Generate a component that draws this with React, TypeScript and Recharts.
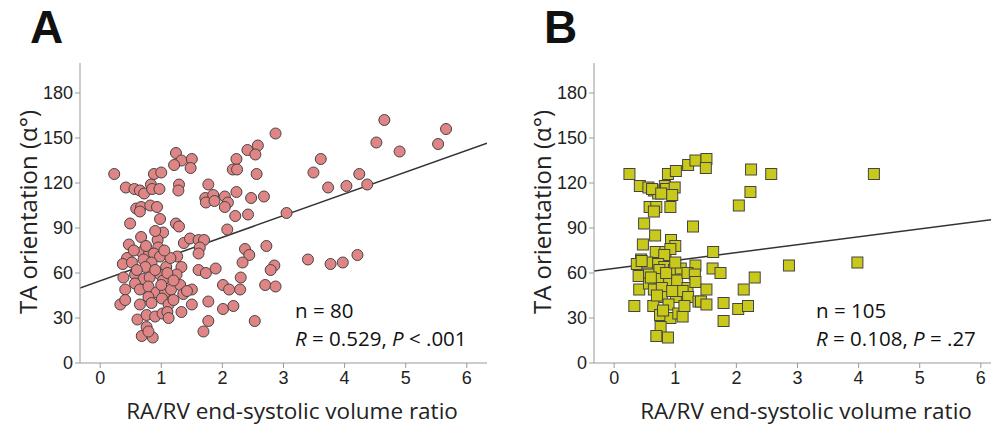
import React from "react";
import { ScatterChart, Scatter, XAxis, YAxis, ReferenceLine } from "recharts";

const X_TICKS = [0, 1, 2, 3, 4, 5, 6];
const Y_TICKS = [0, 30, 60, 90, 120, 150, 180];
const X_DOMAIN = [-0.33, 6.33];
const Y_DOMAIN = [0, 200];

// panel A: RA/RV ratio vs TA orientation
const aX = [
  0.23, 1.24, 1.33, 1.21, 0.88, 1.0, 0.42, 0.56, 0.65, 0.72, 0.83, 0.85, 0.97, 1.29, 1.28,
  0.59, 0.67, 0.65, 0.82, 0.93, 0.98, 0.49, 1.24, 1.29, 0.67, 1.03, 0.94, 0.47, 1.37, 0.95,
  0.68, 0.8, 0.88, 0.98, 0.44, 0.37, 0.52, 0.71, 0.84, 0.74, 1.08, 1.26, 1.33, 0.38, 0.57,
  0.71, 0.81, 0.98, 1.03, 1.25, 0.41, 0.57, 0.65, 0.79, 0.92, 1.06, 1.16, 1.31, 1.36, 0.79,
  0.33, 0.41, 0.65, 0.84, 1.01, 1.12, 1.2, 1.33, 0.61, 0.76, 0.9, 1.02, 1.1, 1.12, 0.76,
  0.68, 0.86, 0.79, 0.9, 1.1, 0.6, 1.15, 0.75, 1.05, 1.0, 1.2, 0.55, 0.9,
  2.87, 2.41, 2.58, 2.54, 2.23, 1.5, 1.48, 2.17, 2.24, 2.56, 1.77, 1.72, 1.85, 1.73, 1.87,
  2.04, 2.09, 2.04, 2.23, 2.47, 2.68, 2.21, 2.42, 3.05, 2.08, 1.47, 1.61, 1.7, 1.63, 1.61,
  2.37, 2.44, 2.72, 2.33, 2.85, 2.79, 1.61, 1.73, 1.89, 2.3, 2.01, 2.11, 2.29, 2.7, 2.87,
  1.5, 1.42, 1.77, 1.5, 2.01, 2.18, 1.77, 1.69, 2.53,
  4.65, 5.66, 4.52, 5.53, 4.9, 3.61, 3.49, 4.24, 3.73, 4.03, 4.37, 3.4, 3.77, 3.97, 4.21,
];
const aY = [
  126, 140, 135, 132, 126, 127, 117, 116, 115, 113, 119, 116, 116, 119, 115,
  103, 104, 101, 105, 104, 96, 93, 93, 91, 84, 87, 82, 79, 80, 77,
  74, 73, 73, 71, 70, 66, 67, 69, 67, 64, 64, 71, 64, 57, 59,
  56, 57, 59, 55, 59, 49, 53, 49, 51, 47, 47, 49, 52, 46, 44,
  39, 42, 39, 40, 43, 39, 42, 34, 29, 32, 31, 33, 34, 30, 24,
  18, 17, 21, 62, 60, 62, 70, 78, 75, 52, 55, 75, 88,
  153, 142, 145, 139, 136, 136, 130, 129, 129, 126, 119, 110, 112, 107, 108,
  111, 107, 104, 114, 110, 111, 98, 99, 100, 89, 83, 82, 82, 77, 73,
  76, 72, 78, 67, 65, 62, 62, 60, 63, 57, 52, 49, 49, 52, 51,
  49, 48, 41, 39, 36, 38, 28, 21, 28,
  162, 156, 147, 146, 141, 136, 127, 126, 117, 118, 119, 69, 66, 67, 72,
];

// panel B
const bX = [
  0.25, 0.42, 0.56, 0.65, 0.72, 0.83, 0.85, 0.99, 0.88, 1.01, 1.21, 1.33, 1.51, 1.5, 2.24,
  2.57, 2.23, 2.04, 0.58, 0.69, 0.65, 0.92, 4.25, 2.86, 3.98,
  0.49, 1.29, 0.67, 0.93, 0.47, 1.0, 0.68, 0.84, 0.92, 0.82, 0.44, 0.37, 0.54, 0.72, 0.82,
  0.4, 0.57, 0.74, 0.98, 1.09, 1.33, 0.72, 0.9, 1.03, 1.2, 1.32, 0.41, 0.57, 0.65, 0.78,
  1.01, 1.2, 1.12, 1.21, 1.38, 0.78, 0.33, 0.64, 0.89, 0.75, 0.92, 1.05, 1.12, 0.76, 0.69,
  0.88, 1.62, 1.61, 1.74, 2.3, 1.33, 1.51, 2.12, 1.42, 1.51, 1.79, 2.03, 2.19, 1.79,
  0.45, 0.6, 0.85, 0.95, 1.15, 0.7, 1.0, 0.8, 0.62, 0.77, 0.95,
];
const bY = [
  126, 118, 117, 115, 113, 118, 116, 117, 126, 128, 132, 135, 136, 130, 129,
  126, 114, 105, 104, 104, 101, 104, 126, 65, 67,
  93, 91, 85, 82, 79, 78, 74, 74, 76, 72, 69, 66, 67, 66, 64,
  58, 59, 62, 62, 63, 65, 56, 55, 55, 60, 59, 49, 53, 49, 50,
  44, 50, 48, 44, 41, 44, 38, 38, 39, 32, 30, 33, 31, 24, 18,
  17, 74, 63, 60, 57, 54, 49, 49, 41, 39, 40, 36, 38, 28,
  68, 57, 60, 48, 38, 45, 67, 35, 116, 113, 112,
];

// regression lines [intercept, slope]
const aFit = [54.8, 14.5];
const bFit = [63.1, 5.25];

const toRows = (xs: number[], ys: number[]) => xs.map((x, i) => ({ x, y: ys[i] }));

const tickStyle = { fill: "#222", fontSize: 18, fontFamily: "'Liberation Sans', Arial, sans-serif" };
const textFont = "'Open Sans', 'Noto Sans', sans-serif";

const Circle = (p: any) => (
  <circle cx={p.cx} cy={p.cy} r={5.5} fill="#e08585" stroke="#444" strokeWidth={1} />
);
const Square = (p: any) => (
  <rect x={p.cx - 5.5} y={p.cy - 5.5} width={11} height={11} fill="#c9c91c" stroke="#444" strokeWidth={1} />
);

type PanelProps = {
  left: number;
  letter: string;
  rows: { x: number; y: number }[];
  fit: number[];
  shape: any;
  noteX: number;
  n: string;
  stats: React.ReactNode;
};

const Panel = ({ left, letter, rows, fit, shape, noteX, n, stats }: PanelProps) => (
  <div style={{ position: "absolute", left, top: 0, width: 500, height: 429 }}>
    <ScatterChart width={500} height={429} margin={{ top: 63, right: 13, bottom: 36, left: 22 }}>
      <XAxis
        type="number"
        dataKey="x"
        domain={X_DOMAIN}
        ticks={X_TICKS}
        allowDataOverflow
        height={30}
        stroke="#999"
        tickSize={5}
        tickMargin={3}
        tick={tickStyle}
      />
      <YAxis
        type="number"
        dataKey="y"
        domain={Y_DOMAIN}
        ticks={Y_TICKS}
        allowDataOverflow
        width={58}
        stroke="#999"
        tickSize={5}
        tickMargin={2}
        tick={tickStyle}
      />
      <Scatter data={rows} shape={shape} isAnimationActive={false} />
      <ReferenceLine
        segment={[
          { x: X_DOMAIN[0], y: fit[0] + fit[1] * X_DOMAIN[0] },
          { x: X_DOMAIN[1], y: fit[0] + fit[1] * X_DOMAIN[1] },
        ]}
        stroke="#333"
        strokeWidth={1.5}
        ifOverflow="hidden"
      />
    </ScatterChart>
    <div
      style={{
        position: "absolute", left: 30, top: 0, fontFamily: "'Liberation Sans', Arial, sans-serif",
        fontWeight: "bold", fontSize: 46, color: "#111",
      }}
    >
      {letter}
    </div>
    <div
      style={{
        position: "absolute", left: 27, top: 212, transform: "translate(-50%, -50%) rotate(-90deg)",
        whiteSpace: "nowrap", fontFamily: textFont, fontSize: 24, color: "#222",
      }}
    >
      TA orientation (α°)
    </div>
    <div
      style={{
        position: "absolute", left: 292, top: 410, transform: "translate(-50%, -50%)",
        whiteSpace: "nowrap", fontFamily: textFont, fontSize: 22.5, color: "#222",
      }}
    >
      RA/RV end-systolic volume ratio
    </div>
    <div
      style={{
        position: "absolute", left: noteX, top: 296, fontFamily: textFont, fontSize: 20.5,
        lineHeight: "28px", color: "#111", whiteSpace: "nowrap",
      }}
    >
      <div>{n}</div>
      <div>{stats}</div>
    </div>
  </div>
);

export default function App() {
  return (
    <div style={{ position: "absolute", left: 0, top: 0, width: 991, height: 429, overflow: "hidden", background: "#fff" }}>
      <Panel
        left={0}
        letter="A"
        rows={toRows(aX, aY)}
        fit={aFit}
        shape={Circle}
        noteX={295}
        n="n = 80"
        stats={<><i>R</i> = 0.529, <i>P</i> &lt; .001</>}
      />
      <Panel
        left={514}
        letter="B"
        rows={toRows(bX, bY)}
        fit={bFit}
        shape={Square}
        noteX={302}
        n="n = 105"
        stats={<><i>R</i> = 0.108, <i>P</i> = .27</>}
      />
    </div>
  );
}
